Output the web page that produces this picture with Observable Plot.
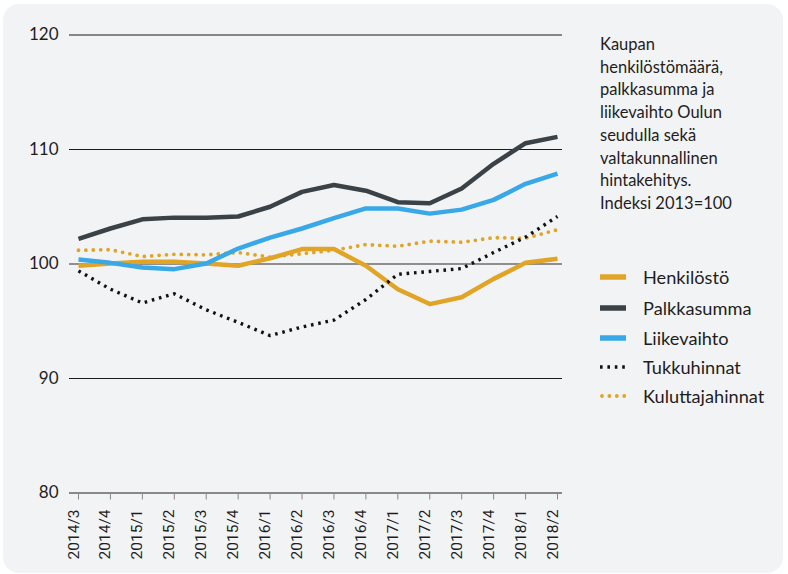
<!DOCTYPE html>
<html>
<head>
<meta charset="utf-8">
<script src="https://cdn.jsdelivr.net/npm/d3@7"></script>
<script src="https://cdn.jsdelivr.net/npm/@observablehq/plot@0.6"></script>
<style>
  html, body { margin: 0; padding: 0; background: #ffffff; }
  #wrap { position: relative; width: 788px; height: 574px; overflow: hidden; font-family: Lato, sans-serif; color: #1e1e1e; }
  #panel { position: absolute; left: 3px; top: 4px; width: 780px; height: 569px; background: #f2f3f5; border-radius: 16px; }
  #chart { position: absolute; left: 0; top: 0; }
  #title { position: absolute; left: 600px; top: 33px; font-size: 16.5px; line-height: 22.7px; }
  .leg { position: absolute; left: 600px; height: 20px; display: flex; align-items: center; font-size: 18.2px; }
  .leg svg { width: 26px; height: 8px; margin-right: 17px; }
</style>
</head>
<body>
<div id="wrap">
  <div id="panel"></div>
  <div id="chart"></div>
  <div id="title">Kaupan<br>henkilöstömäärä,<br>palkkasumma ja<br>liikevaihto Oulun<br>seudulla sekä<br>valtakunnallinen<br>hintakehitys.<br>Indeksi 2013=100</div>
  <div id="legend"></div>
</div>
<script>
const quarters = ["2014/3","2014/4","2015/1","2015/2","2015/3","2015/4","2016/1","2016/2","2016/3","2016/4","2017/1","2017/2","2017/3","2017/4","2018/1","2018/2"];
const henkilosto      = [99.85,100.05,100.2,100.2,100.05,99.85,100.5,101.3,101.3,99.85,97.8,96.5,97.1,98.7,100.1,100.45];
const palkkasumma     = [102.2,103.1,103.9,104.05,104.05,104.15,105.0,106.3,106.9,106.4,105.4,105.3,106.6,108.75,110.55,111.1];
const liikevaihto     = [100.4,100.1,99.7,99.55,100.05,101.35,102.3,103.1,104.0,104.85,104.85,104.4,104.75,105.6,107.0,107.9];
const tukkuhinnat     = [99.4,97.8,96.6,97.4,96.0,94.9,93.75,94.5,95.1,96.9,99.1,99.35,99.6,101.0,102.35,104.15];
const kuluttajahinnat = [101.2,101.25,100.65,100.85,100.8,101.0,100.6,100.9,101.2,101.7,101.55,102.0,101.9,102.3,102.25,103.0];
const yTicks = [80, 90, 100, 110, 120];

const series = [
  {name: "Henkilöstö", values: henkilosto, stroke: "#e0a426", width: 4.5, dash: null, cap: "butt"},
  {name: "Palkkasumma", values: palkkasumma, stroke: "#3b4247", width: 4.5, dash: null, cap: "butt"},
  {name: "Liikevaihto", values: liikevaihto, stroke: "#39a8e6", width: 4.5, dash: null, cap: "butt"},
  {name: "Tukkuhinnat", values: tukkuhinnat, stroke: "#111111", width: 3.4, dash: "2.6 4.8", cap: "butt"},
  {name: "Kuluttajahinnat", values: kuluttajahinnat, stroke: "#e0a426", width: 3.8, dash: "0 7.4", cap: "round"}
];
const drawOrder = ["Kuluttajahinnat", "Henkilöstö", "Liikevaihto", "Palkkasumma", "Tukkuhinnat"];

const lineMarks = drawOrder.map(n => {
  const s = series.find(d => d.name === n);
  const data = quarters.map((q, i) => ({q, v: s.values[i]}));
  return Plot.line(data, {
    x: "q", y: "v", stroke: s.stroke, strokeWidth: s.width,
    strokeDasharray: s.dash, strokeLinecap: s.cap, strokeLinejoin: "round"
  });
});

const chart = Plot.plot({
  width: 788,
  height: 574,
  marginLeft: 69,
  marginRight: 226,
  marginTop: 34.5,
  marginBottom: 81.5,
  style: {background: "transparent", fontFamily: "Lato, sans-serif", color: "#1e1e1e"},
  x: {type: "point", domain: quarters, padding: 0, round: false, range: [78, 557]},
  y: {domain: [80, 120]},
  marks: [
    Plot.ruleY([120, 110, 90], {stroke: "#1a1a1a", strokeWidth: 1}),
    Plot.ruleY([100], {stroke: "#6e6e6e", strokeWidth: 1.5}),
    ...lineMarks,
    Plot.ruleY([80], {stroke: "#888888", strokeWidth: 2}),
    Plot.axisY({ticks: yTicks, tickSize: 0, tickPadding: 11, fontSize: 17, label: null, fill: "#1e1e1e"}),
    Plot.axisX({tickSize: 7, text: null, stroke: "#888888", label: null}),
    Plot.text(quarters, {x: d => d, frameAnchor: "bottom", rotate: -90, textAnchor: "end", dy: 16.5,
      fontSize: 15.5, fontFamily: "Roboto", fill: "#1e1e1e"})
  ]
});
document.getElementById("chart").appendChild(chart);

const legendY = [277, 307.5, 337.5, 367, 396];
const legend = document.getElementById("legend");
series.forEach((s, i) => {
  const item = document.createElement("div");
  item.className = "leg";
  item.style.top = (legendY[i] - 10) + "px";
  const ns = "http://www.w3.org/2000/svg";
  const svg = document.createElementNS(ns, "svg");
  const ln = document.createElementNS(ns, "line");
  ln.setAttribute("x1", s.cap === "round" ? 2 : 0);
  ln.setAttribute("x2", 26);
  ln.setAttribute("y1", 4);
  ln.setAttribute("y2", 4);
  ln.setAttribute("stroke", s.stroke);
  ln.setAttribute("stroke-width", s.dash ? s.width : 5.5);
  if (s.dash) ln.setAttribute("stroke-dasharray", s.dash);
  ln.setAttribute("stroke-linecap", s.cap);
  svg.appendChild(ln);
  item.appendChild(svg);
  const t = document.createElement("span");
  t.textContent = s.name;
  item.appendChild(t);
  legend.appendChild(item);
});
</script>
</body>
</html>
